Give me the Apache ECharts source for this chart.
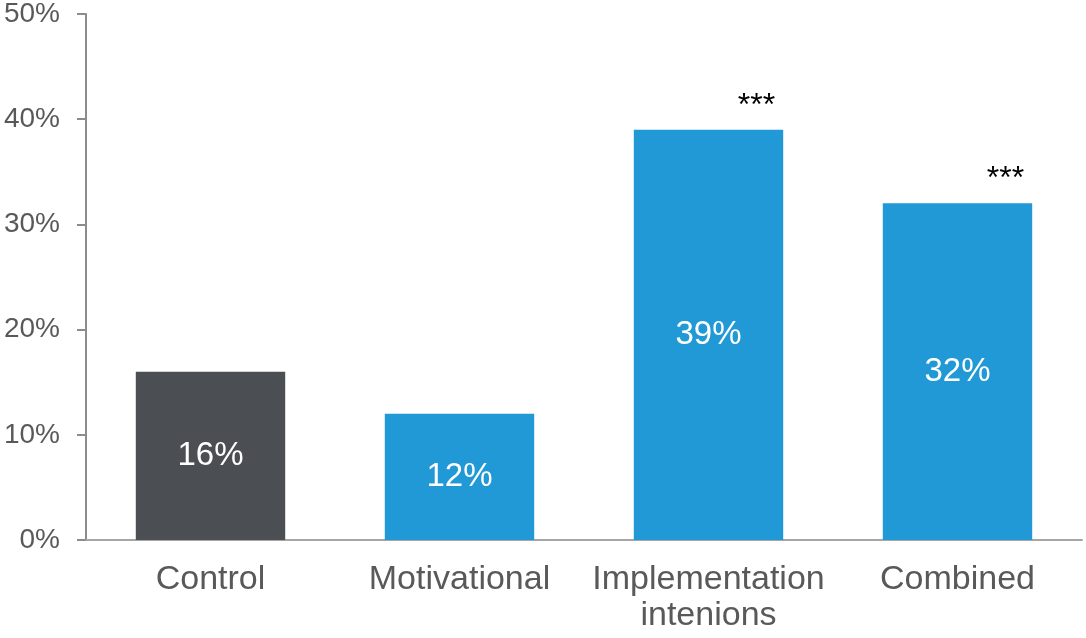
<!DOCTYPE html>
<html>
<head>
<meta charset="utf-8">
<script src="https://cdn.jsdelivr.net/npm/echarts@6/dist/echarts.min.js"></script>
<style>
  html, body { margin: 0; padding: 0; background: #fff; }
  #chart { width: 1086px; height: 638px; }
</style>
</head>
<body>
<div id="chart"></div>
<script>
// Share of participants per condition (percent)
const categories = ['Control', 'Motivational', 'Implementation\nintenions', 'Combined'];
const values = [16, 12, 39, 32];
const significance = ['', '', '***', '***'];
const barColors = ['#4b4e53', '#2099d6', '#2099d6', '#2099d6'];
const yTicks = [0, 10, 20, 30, 40, 50];

const font = 'Liberation Sans, Arial, sans-serif';
const chart = echarts.init(document.getElementById('chart'));

chart.setOption({
  animation: false,
  grid: { left: 86, right: 4, top: 14, bottom: 98, containLabel: false },
  xAxis: {
    type: 'category',
    data: categories,
    axisLine: { show: true, lineStyle: { color: '#a6a6a6', width: 2 } },
    axisTick: { show: false },
    axisLabel: {
      color: '#595959', fontFamily: font, fontSize: 34,
      lineHeight: 36, margin: 22, interval: 0
    }
  },
  yAxis: {
    type: 'value',
    min: yTicks[0],
    max: yTicks[yTicks.length - 1],
    interval: 10,
    splitLine: { show: false },
    axisLine: { show: true, lineStyle: { color: '#8c8c8c', width: 2 } },
    axisTick: { show: true, length: 9, lineStyle: { color: '#8c8c8c', width: 2 } },
    axisLabel: {
      color: '#595959', fontFamily: font, fontSize: 28, margin: 26,
      formatter: v => v + '%'
    }
  },
  series: [
    {
      type: 'bar',
      barWidth: '60%',
      data: values.map((v, i) => ({ value: v, itemStyle: { color: barColors[i] } })),
      label: {
        show: true, position: 'inside', color: '#ffffff',
        fontFamily: font, fontSize: 33, formatter: p => p.value + '%'
      },
      z: 2
    },
    {
      // significance markers above the bars
      type: 'bar',
      barWidth: '60%',
      barGap: '-100%',
      silent: true,
      data: values.map((v, i) => ({ value: v, itemStyle: { color: 'rgba(0,0,0,0)' } })),
      label: {
        show: true, position: 'top', distance: 8, offset: [48, 0],
        color: '#000000', fontFamily: font, fontSize: 32,
        formatter: p => significance[p.dataIndex]
      },
      z: 1
    }
  ]
});
</script>
</body>
</html>
